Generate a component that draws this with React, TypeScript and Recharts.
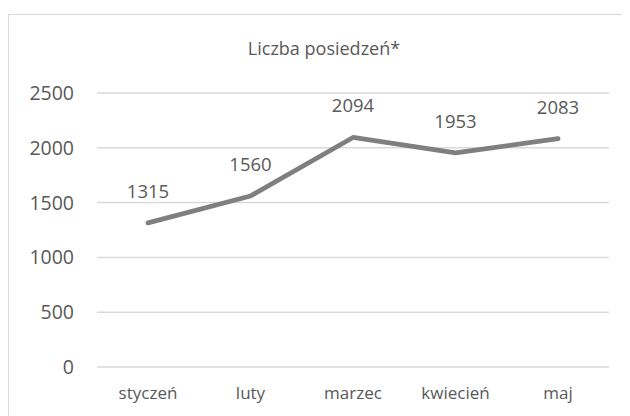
import React from 'react';
import { LineChart, Line, XAxis, YAxis, CartesianGrid, LabelList } from 'recharts';

const months = ['styczeń', 'luty', 'marzec', 'kwiecień', 'maj'];
const sessions = [1315, 1560, 2094, 1953, 2083];
const yTicks = [0, 500, 1000, 1500, 2000, 2500];
const title = 'Liczba posiedzeń*';

const data = months.map((m, i) => ({ month: m, value: sessions[i] }));

const FONT = '"Open Sans", "Noto Sans", sans-serif';
const TEXT = '#595959';

export default function App() {
  return (
    <div
      style={{
        marginTop: 6,
        width: 622,
        height: 402,
        borderTop: '1px solid #d9d9d9',
        borderLeft: '1px solid #d9d9d9',
        boxSizing: 'border-box',
        position: 'relative',
        fontFamily: FONT,
      }}
    >
      <div
        style={{
          position: 'absolute',
          left: 0,
          width: 630,
          top: 21,
          textAlign: 'center',
          fontSize: 18,
          color: TEXT,
          lineHeight: '24px',
        }}
      >
        {title}
      </div>
      <LineChart
        width={621}
        height={401}
        data={data}
        margin={{ top: 78, right: 21, bottom: 19, left: 0 }}
      >
        <CartesianGrid vertical={false} stroke="#d9d9d9" strokeWidth={1.5} />
        <XAxis
          dataKey="month"
          axisLine={false}
          tickLine={false}
          tickMargin={14}
          padding={{ left: 51, right: 51 }}
          tick={{ fill: TEXT, fontSize: 17, fontFamily: FONT }}
          interval={0}
        />
        <YAxis
          width={88}
          domain={[0, 2500]}
          ticks={yTicks}
          axisLine={false}
          tickLine={false}
          tickMargin={17}
          tick={{ fill: TEXT, fontSize: 19.5, fontFamily: FONT }}
        />
        <Line
          type="linear"
          dataKey="value"
          stroke="#7f7f7f"
          strokeWidth={4.8}
          dot={false}
          strokeLinecap="round"
          strokeLinejoin="round"
          isAnimationActive={false}
        >
          <LabelList
            dataKey="value"
            position="top"
            offset={25}
            style={{ fill: TEXT, fontSize: 18.5, fontFamily: FONT }}
          />
        </Line>
      </LineChart>
    </div>
  );
}
